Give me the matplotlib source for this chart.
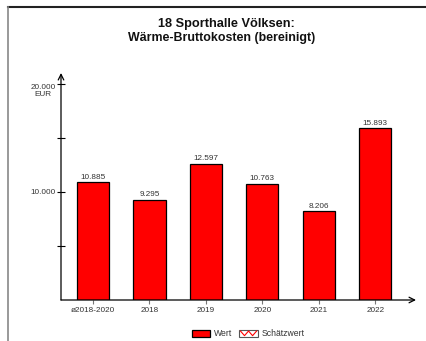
import numpy as np
import matplotlib
matplotlib.use('Agg')
import matplotlib.pyplot as plt
from matplotlib.patches import Rectangle, Patch
from matplotlib.lines import Line2D
from matplotlib.legend_handler import HandlerBase

categories = ['ø2018-2020', '2018', '2019', '2020', '2021', '2022']
values = [10885, 9295, 12597, 10763, 8206, 15893]
valueLabels = ['10.885', '9.295', '12.597', '10.763', '8.206', '15.893']
yTicks = [10000, 20000]
yTickLabels = ['10.000', '20.000\nEUR']
yMinor = [5000, 15000]

plt.rcParams['font.family'] = ['Liberation Sans', 'DejaVu Sans']


class ZigzagHandler(HandlerBase):
	# white box with red zigzag, used for the "Schätzwert" entry
	def create_artists(self, legend, orig, xd, yd, width, height, fontsize, trans):
		box = Rectangle((-xd, -yd), width, height, facecolor='white', edgecolor='#555555', linewidth=0.8, transform=trans)
		n = 5
		xs = np.linspace(-xd + 1, -xd + width - 1, n)
		ys = [-yd + height * (0.85 if i % 2 == 0 else 0.2) for i in range(n)]
		zig = Line2D(xs, ys, color='red', linewidth=0.8, transform=trans)
		return [box, zig]


fig = plt.figure(figsize=(4.26, 3.41), dpi=100)
W, H = 426.0, 341.0

# outer frame (only top and left edges visible)
fig.add_artist(Line2D([8 / W, 1], [1 - 7 / H, 1 - 7 / H], transform=fig.transFigure, color='#222222', linewidth=1.5))
fig.add_artist(Line2D([8 / W, 8 / W], [0, 1 - 7 / H], transform=fig.transFigure, color='#888888', linewidth=1.2))

fig.text(226 / W, 1 - 24 / H, '18 Sporthalle Völksen:', ha='center', va='center', fontsize=9.2, fontweight='bold', color='#111111')
fig.text(222 / W, 1 - 37.5 / H, 'Wärme-Bruttokosten (bereinigt)', ha='center', va='center', fontsize=8.9, fontweight='bold', color='#111111')

left, right, top, bottom = 61, 416, 73, 300
ax = fig.add_axes([left / W, 1 - bottom / H, (right - left) / W, (bottom - top) / H])
ax.set_facecolor('none')

x = np.arange(len(categories))
bars = ax.bar(x, values, width=0.57, color='#ff0000', edgecolor='black', linewidth=0.9, zorder=3)
ax.bar_label(bars, labels=valueLabels, padding=1, fontsize=5.9, color='#333333')

ax.set_xlim(-0.566, 5.72)
ax.set_ylim(0, 21000)

for s in ax.spines.values():
	s.set_visible(False)
ax.annotate('', xy=(1.0, 0), xytext=(0, 0), xycoords='axes fraction',
	arrowprops=dict(arrowstyle='->', color='black', lw=0.9, shrinkA=0, shrinkB=0))
ax.annotate('', xy=(0, 1.0), xytext=(0, 0), xycoords='axes fraction',
	arrowprops=dict(arrowstyle='->', color='black', lw=0.9, shrinkA=0, shrinkB=0))

ax.set_xticks(x)
ax.set_xticklabels(categories)
ax.tick_params(axis='x', direction='out', length=3, width=0.8, color='#777777', labelsize=5.9, labelcolor='#333333', pad=2)
ax.set_yticks(yTicks)
ax.set_yticklabels(yTickLabels, linespacing=1.0)
ax.set_yticks(yMinor, minor=True)
ax.tick_params(axis='y', which='both', direction='inout', length=6, width=0.8, color='black', labelsize=5.9, labelcolor='#333333', pad=1)

# shift the EUR label so first line sits at the tick
for lbl in ax.get_yticklabels():
	if 'EUR' in lbl.get_text():
		lbl.set_va('top')
		lbl.set_y(20000)
		lbl.set_multialignment('center')

handles = [Patch(facecolor='#ff0000', edgecolor='black', linewidth=0.9), Patch()]
fig.legend(handles, ['Wert', 'Schätzwert'], handler_map={handles[1]: ZigzagHandler()},
	loc='center', bbox_to_anchor=(248 / W, 1 - 334 / H), ncol=2, frameon=False,
	fontsize=6.2, handlelength=2.2, handleheight=0.9, handletextpad=0.4, columnspacing=0.8,
	labelcolor='#333333')

fig.savefig('out.png', dpi=100)
